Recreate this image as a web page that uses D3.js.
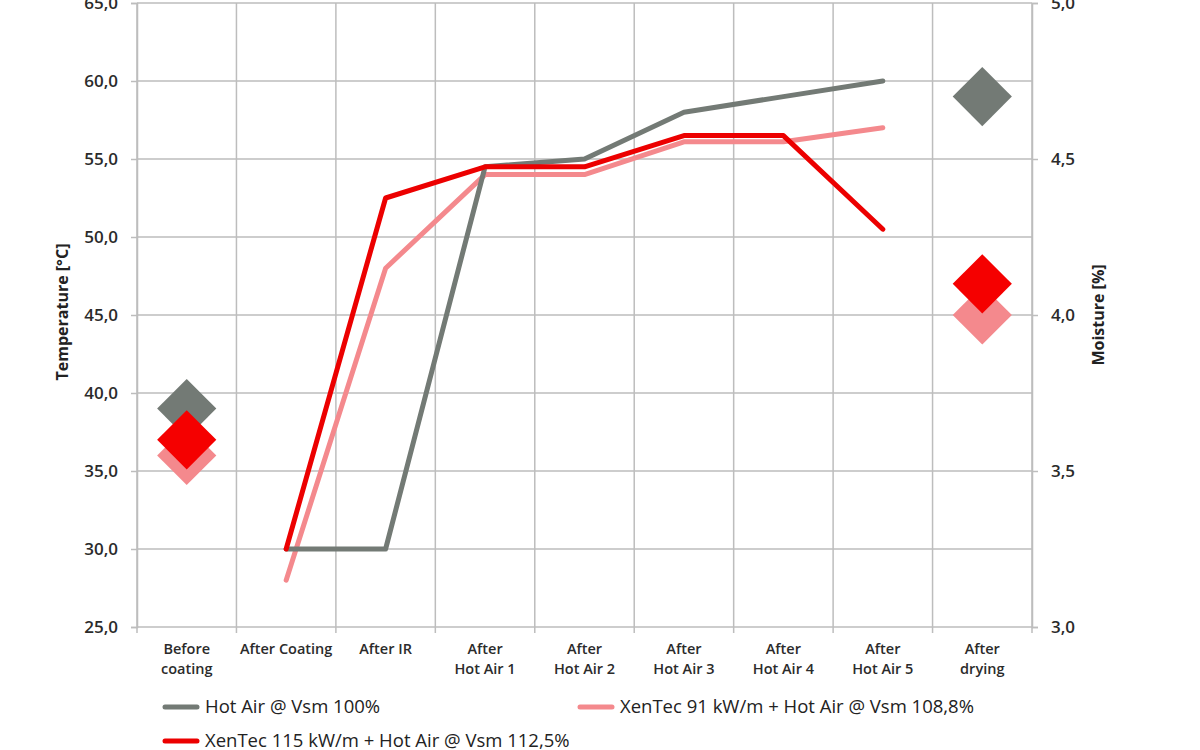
<!DOCTYPE html>
<html><head><meta charset="utf-8">
<script src="https://cdn.jsdelivr.net/npm/d3@7"></script>
<style>
body{margin:0;background:#fff;}
svg{display:block;font-family:"Open Sans","Noto Sans",sans-serif;}
</style></head>
<body><svg id="c" width="1200" height="750"></svg>
<script>
const categories = [["Before","coating"],["After Coating"],["After IR"],["After","Hot Air 1"],["After","Hot Air 2"],["After","Hot Air 3"],["After","Hot Air 4"],["After","Hot Air 5"],["After","drying"]];
const catKeys = categories.map(c => c.join(" "));
const tempTicks = [25,30,35,40,45,50,55,60,65];
const moistTicks = [3.0,3.5,4.0,4.5,5.0];
const hotAirTemp = [null,30,30,54.5,55,58,59,60,null];
const xen91Temp = [null,28,48,54,54,56.1,56.1,57,null];
const xen115Temp = [null,30,52.5,54.5,54.5,56.5,56.5,50.5,null];
const hotAirMoist = [3.7,null,null,null,null,null,null,null,4.7];
const xen91Moist = [3.55,null,null,null,null,null,null,null,4.0];
const xen115Moist = [3.6,null,null,null,null,null,null,null,4.1];
const seriesNames = ["Hot Air @ Vsm 100%","XenTec 91 kW/m + Hot Air @ Vsm 108,8%","XenTec 115 kW/m + Hot Air @ Vsm 112,5%"];
const colors = {gray:"#737a75", pink:"#f4898d", red:"#ec0000", redMark:"#f50000"};

const svg = d3.select("#c");
const L=137, R=1032, T=3, B=627;
const x = d3.scaleBand().domain(catKeys).range([L,R]).padding(0);
const yT = d3.scaleLinear().domain([25,65]).range([B,T]);
const yM = d3.scaleLinear().domain([3,5]).range([B,T]);
const fmt = d => d3.format(".1f")(d).replace(".", ",");
const gridColor = "#bdbdbd";

// grid
const g = svg.append("g");
g.selectAll("line.h").data(tempTicks).join("line")
  .attr("x1",L).attr("x2",R).attr("y1",d=>yT(d)).attr("y2",d=>yT(d))
  .attr("stroke",gridColor).attr("stroke-width",1.5);
const bounds = catKeys.map(k=>x(k)).concat([R]);
g.selectAll("line.v").data(bounds).join("line")
  .attr("x1",d=>d).attr("x2",d=>d).attr("y1",T).attr("y2",B+6)
  .attr("stroke",gridColor).attr("stroke-width",1.5);

// axes
const axL = svg.append("g").attr("transform",`translate(${L},0)`)
  .call(d3.axisLeft(yT).tickValues(tempTicks).tickFormat(fmt).tickSize(6).tickPadding(13));
const axR = svg.append("g").attr("transform",`translate(${R},0)`)
  .call(d3.axisRight(yM).tickValues(moistTicks).tickFormat(fmt).tickSize(6).tickPadding(13));
[axL,axR].forEach(a=>{
  a.select(".domain").attr("stroke",gridColor).attr("stroke-width",1.5);
  a.selectAll(".tick line").attr("stroke",gridColor).attr("stroke-width",1.5);
  a.selectAll(".tick text").attr("font-size",17).attr("font-weight",600).attr("fill","#2b2b2b")
   .attr("font-family","'Open Sans',sans-serif");
});

// category labels (one text per line)
const cl = svg.append("g");
categories.forEach((lines,i)=>{
  const cx = x(catKeys[i])+x.bandwidth()/2;
  lines.forEach((ln,j)=>{
    cl.append("text").attr("x",cx).attr("y",654+j*20)
      .attr("text-anchor","middle").attr("font-size",14.5).attr("font-weight",600)
      .attr("fill","#2b2b2b").text(ln);
  });
});

// axis titles
svg.append("text").attr("transform","translate(68,312) rotate(-90)").attr("text-anchor","middle")
  .attr("font-size",16).attr("font-weight",700).attr("fill","#222").text("Temperature [°C]");
svg.append("text").attr("transform","translate(1104,315) rotate(-90)").attr("text-anchor","middle")
  .attr("font-size",16).attr("font-weight",700).attr("fill","#222").text("Moisture [%]");

// lines
const line = d3.line().defined(d=>d.v!==null).x(d=>x(d.k)+x.bandwidth()/2).y(d=>yT(d.v));
const mk = arr => arr.map((v,i)=>({k:catKeys[i],v}));
[[xen91Temp,colors.pink],[hotAirTemp,colors.gray],[xen115Temp,colors.red]].forEach(([arr,c])=>{
  svg.append("path").datum(mk(arr)).attr("d",line).attr("fill","none")
    .attr("stroke",c).attr("stroke-width",5).attr("stroke-linejoin","round").attr("stroke-linecap","round");
});

// diamonds (moisture)
const sym = d3.symbol(d3.symbolSquare).size(1750);
[[hotAirMoist,colors.gray],[xen91Moist,colors.pink],[xen115Moist,colors.redMark]].forEach(([arr,c])=>{
  svg.append("g").selectAll("path").data(mk(arr).filter(d=>d.v!==null)).join("path")
    .attr("d",sym).attr("fill",c)
    .attr("transform",d=>`translate(${x(d.k)+x.bandwidth()/2},${yM(d.v)}) rotate(45)`);
});

// legend
const leg = [
  {name:seriesNames[0],c:colors.gray,x:165,y:707},
  {name:seriesNames[1],c:colors.pink,x:580,y:707},
  {name:seriesNames[2],c:colors.red,x:165,y:741}
];
const lg = svg.append("g");
leg.forEach(d=>{
  lg.append("line").attr("x1",d.x).attr("x2",d.x+32).attr("y1",d.y).attr("y2",d.y)
    .attr("stroke",d.c).attr("stroke-width",5).attr("stroke-linecap","round");
  lg.append("text").attr("x",d.x+40).attr("y",d.y+6).attr("font-size",18.5).attr("fill","#222").text(d.name);
});
</script></body></html>
